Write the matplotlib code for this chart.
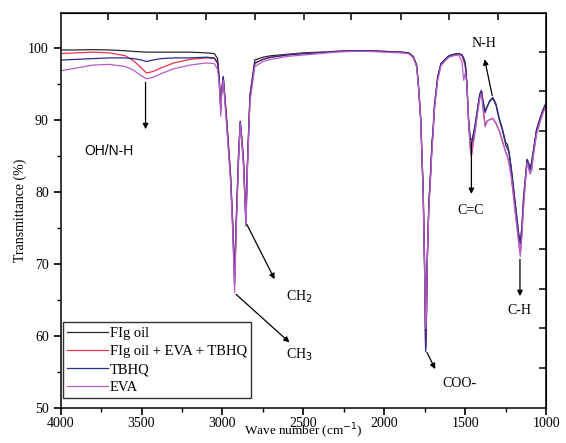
import numpy as np
import matplotlib
matplotlib.use("Agg")
import matplotlib.pyplot as plt

# wavenumber grid (cm-1) and transmittance (%)
wn = [4000, 3900, 3800, 3700, 3600, 3550, 3500, 3470, 3430, 3380, 3300, 3200, 3100, 3050,
      3030, 3020, 3010, 3005, 2995, 2975, 2950, 2935, 2925, 2915, 2900, 2890, 2880, 2870,
      2855, 2845, 2830, 2800, 2750, 2700, 2600, 2500, 2400, 2300, 2200, 2100, 2000, 1900,
      1850, 1820, 1800, 1790, 1775, 1760, 1750, 1745, 1740, 1735, 1725, 1715, 1705, 1700,
      1690, 1670, 1650, 1620, 1600, 1570, 1540, 1520, 1510, 1500, 1490, 1480, 1470, 1462,
      1455, 1440, 1420, 1410, 1400, 1390, 1377, 1365, 1350, 1330, 1310, 1290, 1270, 1250,
      1240, 1230, 1215, 1200, 1185, 1170, 1160, 1150, 1140, 1130, 1118, 1110, 1100, 1090,
      1080, 1070, 1060, 1040, 1020, 1000]

fig_oil = [99.7, 99.7, 99.75, 99.7, 99.6, 99.5, 99.45, 99.4, 99.4, 99.4, 99.4, 99.4, 99.3, 99.2,
           98.5, 96.0, 91.5, 94.0, 96.0, 90.5, 82.5, 75.0, 68.5, 76.0, 85.5, 89.8, 87.5, 84.5,
           76.5, 84.5, 93.5, 98.3, 98.7, 98.9, 99.1, 99.3, 99.4, 99.5, 99.6, 99.6, 99.5, 99.4,
           99.3, 98.8, 97.6, 95.2, 90.2, 80.5, 68.5, 58.5, 62.5, 70.5, 78.5, 82.5, 87.0, 88.2,
           92.0, 96.0, 97.8, 98.5, 98.9, 99.1, 99.2, 99.0, 98.6, 97.9, 95.2, 90.5, 87.5, 86.5,
           87.2, 89.2, 92.2, 93.6, 94.0, 92.6, 91.2, 91.8, 92.6, 93.1, 92.2, 90.2, 88.7, 86.8,
           86.6, 85.6, 83.2, 80.2, 77.2, 74.2, 73.0, 75.2, 79.2, 81.6, 84.5, 84.1, 83.2, 84.1,
           85.6, 87.1, 88.6, 90.1, 91.4, 92.4]

fig_eva_tbhq = [99.2, 99.3, 99.4, 99.3, 98.9, 98.2, 97.2, 96.5, 96.7, 97.2, 97.9, 98.4, 98.6, 98.5,
                97.8, 95.5, 91.2, 93.8, 95.8, 90.2, 82.2, 74.5, 68.0, 75.5, 85.0, 89.6, 87.2, 84.2,
                76.0, 84.2, 93.2, 97.8, 98.4, 98.7, 99.0, 99.2, 99.3, 99.5, 99.6, 99.6, 99.5, 99.4,
                99.3, 98.7, 97.4, 95.0, 90.0, 80.0, 68.0, 59.5, 62.0, 70.0, 78.0, 82.0, 86.5, 87.8,
                91.8, 95.8, 97.7, 98.4, 98.8, 99.0, 99.1, 98.9, 98.2, 97.5, 94.8, 90.0, 86.5, 85.0,
                86.2, 88.5, 91.8, 93.3, 93.8, 91.8, 89.2, 89.8, 90.0, 90.2, 89.5, 88.5, 87.0, 85.5,
                85.0, 84.0, 82.0, 79.0, 76.0, 73.0, 71.5, 74.0, 78.0, 81.0, 84.0, 83.5, 82.5, 83.0,
                85.0, 86.5, 88.0, 89.6, 91.0, 92.0]

tbhq = [98.3, 98.4, 98.5, 98.6, 98.6, 98.5, 98.3, 98.1, 98.3, 98.5, 98.6, 98.6, 98.7, 98.6,
        98.0, 95.5, 91.5, 94.0, 96.0, 90.0, 82.0, 74.5, 67.0, 75.5, 85.0, 89.7, 87.0, 84.0,
        75.5, 84.0, 93.0, 97.9, 98.4, 98.7, 99.0, 99.2, 99.3, 99.5, 99.6, 99.6, 99.5, 99.4,
        99.3, 98.7, 97.5, 95.0, 90.0, 80.0, 68.0, 57.8, 62.0, 70.0, 78.0, 82.0, 87.0, 88.0,
        92.0, 96.0, 97.8, 98.5, 98.9, 99.1, 99.2, 99.0, 98.5, 97.8, 95.0, 90.0, 87.5, 87.2,
        87.5, 89.0, 92.0, 93.5, 94.1, 92.5, 91.0, 91.8, 92.5, 93.0, 92.0, 90.0, 88.5, 86.5,
        86.0, 85.5, 83.0, 80.0, 77.0, 74.0, 72.8, 75.0, 79.0, 81.5, 84.4, 84.0, 83.0, 84.0,
        85.5, 87.0, 88.5, 90.0, 91.3, 92.3]

eva = [96.8, 97.2, 97.6, 97.7, 97.4, 96.9, 96.1, 95.7, 95.9, 96.4, 97.1, 97.6, 97.9, 97.8,
       97.0, 95.0, 90.5, 93.5, 95.5, 89.5, 81.5, 73.5, 66.0, 74.5, 84.5, 89.5, 86.8, 83.5,
       75.2, 83.5, 92.5, 97.4, 98.1, 98.4, 98.8, 99.0, 99.2, 99.4, 99.5, 99.5, 99.4, 99.3,
       99.2, 98.6, 97.3, 94.8, 89.8, 79.5, 67.5, 61.0, 63.0, 70.5, 77.5, 81.5, 86.0, 87.5,
       91.5, 95.5, 97.5, 98.3, 98.7, 98.9, 99.0, 98.0, 95.5, 96.5, 95.0, 89.8, 86.0, 85.0,
       86.0, 88.2, 91.5, 93.0, 93.6, 91.5, 89.0, 89.8, 90.0, 90.2, 89.5, 88.5, 87.0, 85.5,
       85.0, 84.0, 82.0, 79.0, 76.0, 73.0, 71.0, 74.0, 78.0, 81.0, 84.0, 83.5, 82.5, 83.0,
       85.0, 86.5, 88.0, 89.6, 91.0, 92.0]

series = [("FIg oil", fig_oil, "#2a2a2a"),
          ("FIg oil + EVA + TBHQ", fig_eva_tbhq, "#e8334a"),
          ("TBHQ", tbhq, "#2c2c8c"),
          ("EVA", eva, "#b55ccc")]

# unlabelled ticks on the top and right frame
top_ticks = [3708, 3406, 3104, 2801, 2495, 2203, 1900, 1600, 1296]
right_ticks = [99.4, 94.0, 88.5, 83.1, 77.6, 72.0, 66.5, 61.0, 55.5]

plt.rcParams["font.family"] = "Liberation Serif"

fig = plt.figure(figsize=(5.66, 4.43), dpi=100)
ax = fig.add_axes([0.107, 0.08, 0.858, 0.89])

for name, vals, col in series:
    ax.plot(wn, vals, color=col, linewidth=0.9, label=name)

ax.set_xlim(4000, 1000)
ax.set_ylim(50, 104.8)
ax.set_xticks([4000, 3500, 3000, 2500, 2000, 1500, 1000])
ax.set_xticks([3750, 3250, 2750, 2250, 1750, 1250], minor=True)
ax.set_yticks([50, 60, 70, 80, 90, 100])
ax.set_yticks([55, 65, 75, 85, 95], minor=True)
ax.tick_params(which="major", direction="out", length=5, width=1.2, labelsize=10)
ax.tick_params(axis="x", which="major", pad=2)
ax.tick_params(which="minor", direction="out", length=3, width=1)
for s in ax.spines.values():
    s.set_linewidth(1.1)

top = ax.secondary_xaxis("top")
top.set_xticks(top_ticks)
top.tick_params(direction="in", length=5, width=1.1, labeltop=False)
right = ax.secondary_yaxis("right")
right.set_yticks(right_ticks)
right.tick_params(direction="in", length=5, width=1.1, labelright=False)

ax.set_xlabel("Wave number (cm$^{-1}$)", fontsize=9.5)
ax.xaxis.set_label_coords(0.5, -0.086)
ax.xaxis.label.set_va("bottom")
ax.set_ylabel("Transmittance (%)", fontsize=10, labelpad=1)

arw = dict(arrowstyle="-|>", color="black", lw=0.9, mutation_scale=8)
ax.annotate("", xy=(3475, 88.3), xytext=(3475, 95.6), arrowprops=arw)
ax.text(3702, 85.6, "OH/N-H", family="Liberation Sans", fontsize=10, ha="center", va="center")
ax.annotate("", xy=(2670, 67.5), xytext=(2857, 75.8), arrowprops=arw)
ax.text(2610, 65.4, "CH$_2$", fontsize=10, ha="left", va="center")
ax.annotate("", xy=(2573, 58.8), xytext=(2929, 66.0), arrowprops=arw)
ax.text(2610, 57.4, "CH$_3$", fontsize=10, ha="left", va="center")
ax.annotate("", xy=(1678, 55.0), xytext=(1744, 58.0), arrowprops=arw)
ax.text(1538, 53.4, "COO-", fontsize=10, ha="center", va="center")
ax.annotate("", xy=(1462, 79.3), xytext=(1462, 87.2), arrowprops=arw)
ax.text(1465, 77.4, "C=C", fontsize=10, ha="center", va="center")
ax.annotate("", xy=(1384, 98.8), xytext=(1330, 93.0), arrowprops=arw)
ax.text(1385, 100.6, "N-H", fontsize=10, ha="center", va="center")
ax.annotate("", xy=(1162, 65.1), xytext=(1162, 71.0), arrowprops=arw)
ax.text(1165, 63.5, "C-H", fontsize=10, ha="center", va="center")

leg = ax.legend(loc="lower left", bbox_to_anchor=(0.005, 0.023), fontsize=10.5,
                frameon=True, fancybox=False, handlelength=2.8, handletextpad=0.1,
                labelspacing=0.33, borderpad=0.3, borderaxespad=0)
leg.get_frame().set_edgecolor("black")
leg.get_frame().set_linewidth(1.0)

fig.savefig("out.png", dpi=100)
